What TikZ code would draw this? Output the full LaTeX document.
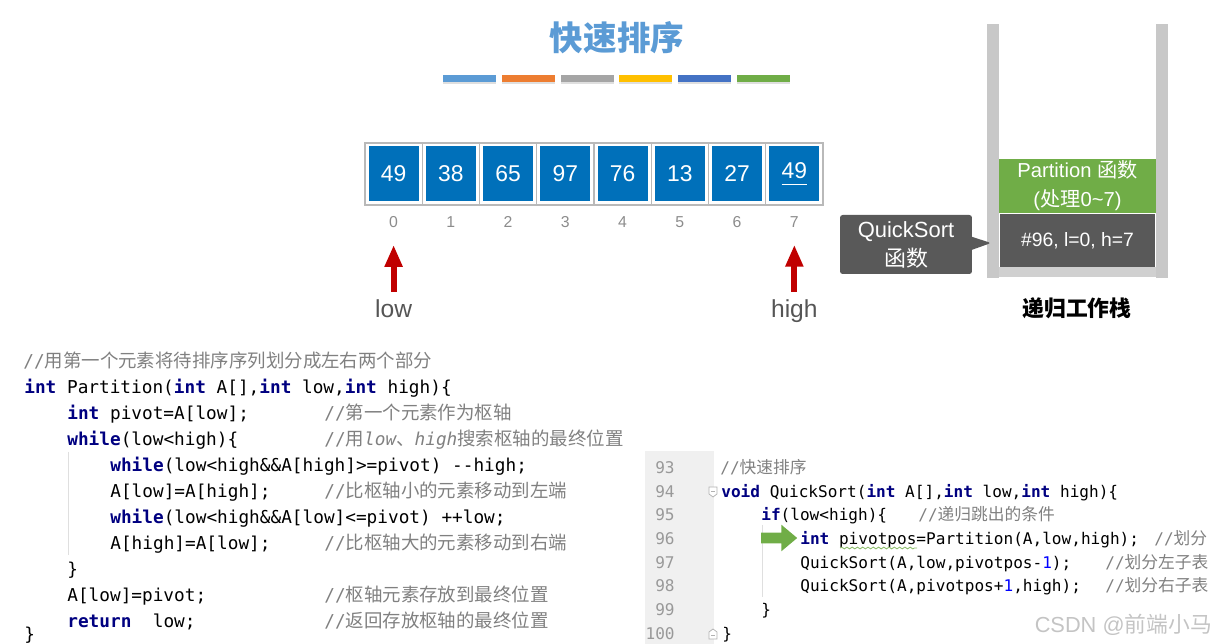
\documentclass[tikz,border=0pt]{standalone}
\usepackage{fontspec}
\setmainfont{Liberation Sans}
\setmonofont{DejaVu Sans Mono}
\newfontfamily\cjk{Noto Sans CJK SC}
\newfontfamily\cjkcode[Scale=1.04]{Noto Sans CJK SC}
\usepackage{tikz}
\usetikzlibrary{positioning,arrows.meta,shapes.callouts,shapes.arrows,shadows,decorations.pathmorphing}
\usepackage{xcolor}

\definecolor{titleblue}{HTML}{5B9BD5}
\definecolor{barblue}{HTML}{5B9BD5}
\definecolor{barorange}{HTML}{ED7D31}
\definecolor{bargray}{HTML}{A5A5A5}
\definecolor{baryellow}{HTML}{FFC000}
\definecolor{bardblue}{HTML}{4472C4}
\definecolor{bargreen}{HTML}{70AD47}
\definecolor{arrblue}{HTML}{0070BA}
\definecolor{idxgray}{HTML}{8C8C8C}
\definecolor{ptrgray}{HTML}{555555}
\definecolor{ptrred}{HTML}{C00000}
\definecolor{wallgray}{HTML}{C8C8C8}
\definecolor{basegray}{HTML}{D0D0D0}
\definecolor{partgreen}{HTML}{70AD47}
\definecolor{stackdark}{HTML}{595959}
\definecolor{kwblue}{HTML}{000080}
\definecolor{cmtgray}{HTML}{808080}
\definecolor{numblue}{HTML}{0000FF}
\definecolor{linenogray}{HTML}{999999}
\definecolor{guttergray}{HTML}{F0F0F0}
\definecolor{wmgray}{HTML}{C4C4C4}

\newcommand{\kw}[1]{{\bfseries\color{kwblue}#1}}
\newcommand{\cmt}[1]{{\color{cmtgray}#1}}
\newcommand{\numc}[1]{{\color{numblue}#1}}

\begin{document}
\begin{tikzpicture}[
			x=0.02cm, y=-0.02cm,
			% Define styles
			colorbar/.style={minimum width=1.06cm, minimum height=0.14cm, inner sep=0, drop shadow={shadow xshift=0pt, shadow yshift=-1pt, opacity=0.25}},
			cellbox/.style={draw=gray!55, line width=0.6pt, minimum width=1.145cm, minimum height=1.24cm, inner sep=0},
			valbox/.style={fill=arrblue, text=white, minimum width=1cm, minimum height=1.1cm, inner sep=0, font=\fontsize{13}{13}\selectfont},
			idxlbl/.style={text=idxgray, inner sep=0, font=\fontsize{9}{9}\selectfont},
			ptrlbl/.style={text=ptrgray, inner sep=0, anchor=base, font=\fontsize{14}{14}\selectfont},
			ptrarrow/.style={-{Triangle[width=9.6pt, length=12.5pt]}, line width=3.4pt, color=ptrred, shorten <=0.16cm, shorten >=0.34cm},
			stackbox/.style={text=white, inner sep=0, align=center},
			codeline/.style={anchor=base west, inner sep=0, font=\fontsize{10.1}{12}\selectfont\ttfamily},
			rcodeline/.style={anchor=base west, inner sep=0, font=\fontsize{9.15}{11}\selectfont\ttfamily},
			lineno/.style={anchor=base east, inner sep=0, text=linenogray, font=\fontsize{9.15}{11}\selectfont\ttfamily},
			guide/.style={gray!25, line width=0.5pt},
			fold/.style={draw=gray!60, fill=white, line width=0.4pt}
			]
			\useasboundingbox (0,0) rectangle (1225,644);
			
			% --- Title ---
			\node (title) [text=titleblue, font=\cjk\bfseries\fontsize{19.1}{19.1}\selectfont] at (617,38) {快速排序};
			\foreach \c [count=\i from 0] in {barblue,barorange,bargray,baryellow,bardblue,bargreen}
				\node (bar\i) [colorbar, fill=\c] at (469.5+58.8*\i,78.5) {};
			
			% --- Array ---
			\foreach \v [count=\i from 0] in {49,38,65,97,76,13,27,\underline{49\rule[-2pt]{0pt}{2pt}}} {
				\node (cell\i) [cellbox] at (393.6+57.25*\i,174) {};
				\node (val\i) [valbox] at (cell\i) {\v};
				\node (idx\i) [idxlbl] at (393.6+57.25*\i,222) {\i};
			}
			
			% low / high pointers
			\node (low) [ptrlbl] at (393.6,318) {low};
			\node (high) [ptrlbl] at (794.35,318) {high};
			\draw[ptrarrow] (low) -- (idx0);
			\draw[ptrarrow] (high) -- (idx7);
			
			% --- Recursion stack ---
			\fill[wallgray] (987,24) rectangle (999,278);
			\fill[wallgray] (1156,24) rectangle (1168,278);
			\fill[basegray] (999,267) rectangle (1156,277);
			\node (part) [stackbox, fill=partgreen, minimum width=3.14cm, minimum height=1.08cm, font=\fontsize{11.5}{16.4}\selectfont] at (1077.5,186) {Partition {\cjk 函数}\\({\cjk 处理}0\textasciitilde7)};
			\node (frame96) [stackbox, fill=stackdark, minimum width=3.1cm, minimum height=1.06cm, font=\fontsize{11}{11}\selectfont] at (1077.5,240.5) {\#96, l=0, h=7};
			\coordinate (qstip) at (991,243);
			\node (qscall) [stackbox, rectangle callout, fill=stackdark, rounded corners=1.5pt, minimum width=2.64cm, minimum height=1.18cm, callout absolute pointer={(qstip)}, callout pointer width=0.26cm, font=\fontsize{12.5}{16.5}\selectfont] at (906,244.5) {QuickSort\\{\cjk 函数}};
			\node (stacklbl) [font=\cjk\bfseries\fontsize{12.4}{12.4}\selectfont] at (1077,308) {递归工作栈};
			
			% --- Partition code ---
			\draw[guide] (68,452) -- (68,555);
			\node (l1) [codeline] at (23,368) {\cmt{//{\cjkcode 用第一个元素将待排序序列划分成左右两个部分}}};
			\node (l2) [codeline] at (24,394) {\kw{int} Partition(\kw{int} A[],\kw{int} low,\kw{int} high)\{};
			\node (l3) [codeline] at (67,420) {\kw{int} pivot=A[low];};
			\node (l4) [codeline] at (67,446) {\kw{while}(low<high)\{};
			\node (l5) [codeline] at (110,472) {\kw{while}(low<high\&\&A[high]>=pivot) --high;};
			\node (l6) [codeline] at (110,498) {A[low]=A[high];};
			\node (l7) [codeline] at (110,524) {\kw{while}(low<high\&\&A[low]<=pivot) ++low;};
			\node (l8) [codeline] at (110,550) {A[high]=A[low];};
			\node (l9) [codeline] at (67,576) {\}};
			\node (l10) [codeline] at (67,602) {A[low]=pivot;};
			\node (l11) [codeline] at (67,628) {\kw{return}\ \ low;};
			\node (l12) [codeline] at (24,640.5) {\}};
			% comments
			\node (c3) [codeline] at (324,420) {\cmt{//{\cjkcode 第一个元素作为枢轴}}};
			\node (c4) [codeline] at (324,446) {\cmt{//{\cjkcode 用}{\itshape low}{\cjkcode 、}{\itshape high}{\cjkcode 搜索枢轴的最终位置}}};
			\node (c6) [codeline] at (324,498) {\cmt{//{\cjkcode 比枢轴小的元素移动到左端}}};
			\node (c8) [codeline] at (324,550) {\cmt{//{\cjkcode 比枢轴大的元素移动到右端}}};
			\node (c10) [codeline] at (324,602) {\cmt{//{\cjkcode 枢轴元素存放到最终位置}}};
			\node (c11) [codeline] at (324,628) {\cmt{//{\cjkcode 返回存放枢轴的最终位置}}};
			
			% --- QuickSort code ---
			\fill[guttergray] (645,451) rectangle (714,644);
			\foreach \n [count=\k from 0] in {93,...,100}
				\node (n\n) [lineno] at (675,473.5+23.7*\k) {\n};
			\draw[fold] (709,487) -- (717,487) -- (717,494) -- (713,497) -- (709,494) -- cycle;
			\draw[gray!60, line width=0.4pt] (711,491) -- (715,491);
			\draw[fold] (709,639) -- (717,639) -- (717,632) -- (713,629) -- (709,632) -- cycle;
			\draw[gray!60, line width=0.4pt] (711,635) -- (715,635);
			\draw[guide] (762,525) -- (762,597);
			\node (r93) [rcodeline] at (720,473.5) {\cmt{//{\cjkcode 快速排序}}};
			\node (r94) [rcodeline] at (721,497.2) {\kw{void} QuickSort(\kw{int} A[],\kw{int} low,\kw{int} high)\{};
			\node (r95) [rcodeline] at (761,520.9) {\kw{if}(low<high)\{};
			\node (r96) [rcodeline] at (800,544.6) {\kw{int} pivotpos=Partition(A,low,high);};
			\node (r97) [rcodeline] at (800,568.3) {QuickSort(A,low,pivotpos-\numc{1});};
			\node (r98) [rcodeline] at (800,592) {QuickSort(A,pivotpos+\numc{1},high);};
			\node (r99) [rcodeline] at (761,615.7) {\}};
			\node (r100) [rcodeline] at (722,639.4) {\}};
			\node (rc95) [rcodeline] at (918,520.9) {\cmt{//{\cjkcode 递归跳出的条件}}};
			\node (rc96) [rcodeline] at (1154,544.6) {\cmt{//{\cjkcode 划分}}};
			\node (rc97) [rcodeline] at (1105,568.3) {\cmt{//{\cjkcode 划分左子表}}};
			\node (rc98) [rcodeline] at (1105,592) {\cmt{//{\cjkcode 划分右子表}}};
			\draw[partgreen!80, line width=0.5pt, decorate, decoration={snake, amplitude=0.5pt, segment length=3pt}] (840,548) -- (917,548);
			
			% current line marker
			\node (cur) [single arrow, fill=partgreen, inner sep=0.1cm, minimum height=0.72cm, single arrow head extend=0.16cm, single arrow tip angle=80] at (776,538) {};
			
			% watermark
			\node (wm) [anchor=east, text=wmgray, font=\fontsize{12.4}{12.4}\selectfont] at (1218,625) {CSDN @{\cjk 前端小马}};
			
		\end{tikzpicture}
\end{document}
